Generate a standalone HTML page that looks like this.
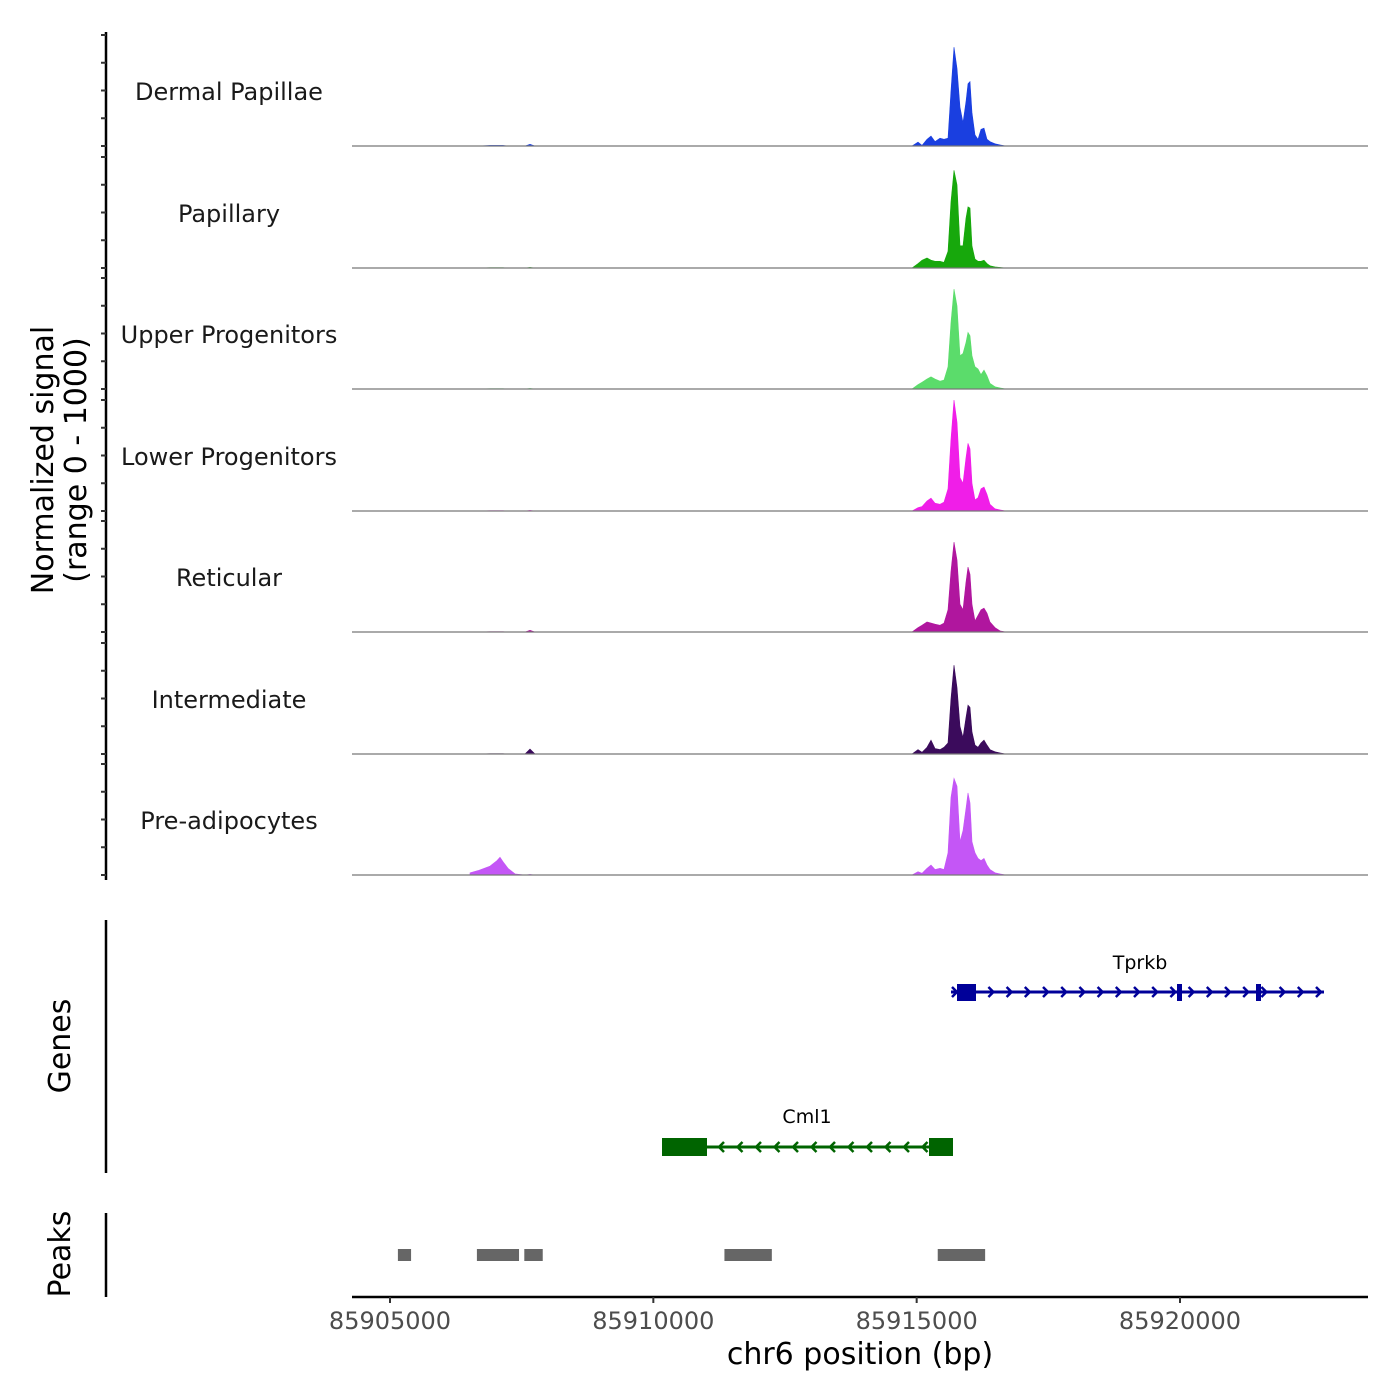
<!DOCTYPE html>
<html><head><meta charset="utf-8"><style>
html,body{margin:0;padding:0;background:#fff}
svg{display:block;font-family:"DejaVu Sans","Liberation Sans",sans-serif}
</style></head><body>
<svg id="chart" width="1400" height="1400" viewBox="0 0 1400 1400" xmlns="http://www.w3.org/2000/svg"></svg>
<script>
const positions=[85906519,85906671,85906899,85907032,85907089,85907146,85907240,85907373,85907563,85907658,85907753,
85914911,85915025,85915101,85915196,85915272,85915348,85915443,85915519,85915595,85915652,85915709,85915766,85915823,85915880,85915937,85915975,85916012,85916050,85916107,85916164,85916221,85916278,85916335,85916392,85916487,85916582,85916696];
const trackNames=["Dermal Papillae","Papillary","Upper Progenitors","Lower Progenitors","Reticular","Intermediate","Pre-adipocytes"];
const trackColors=["#1a3fe0","#17a80c","#5bdc6b","#f01ee8","#b0169e","#3b0b5c","#c456f6"];
const dpValues=[0,0,5,5,5,5,0,0,0,15,0, 0,35,5,60,90,40,70,60,70,500,890,700,350,210,400,560,580,300,100,60,150,160,60,40,20,10,0];
const papValues=[0,0,3,3,3,3,0,0,0,5,0, 0,40,70,90,70,60,60,50,150,600,880,750,200,200,450,550,540,200,80,60,60,70,40,20,10,5,0];
const upValues=[0,0,3,3,3,3,0,0,0,5,0, 0,40,60,90,110,90,70,80,200,600,900,750,300,320,420,510,480,300,200,180,130,170,120,50,20,10,0];
const lowValues=[0,0,3,3,3,3,0,0,0,5,0, 0,30,40,90,115,70,60,80,200,650,1000,800,300,250,480,610,560,250,100,120,200,215,150,60,20,10,0];
const retValues=[0,0,3,3,3,3,0,0,0,15,0, 0,40,60,90,80,70,60,80,200,550,810,650,250,200,450,585,520,250,100,150,200,215,170,90,40,10,0];
const intValues=[0,0,3,3,3,3,0,0,0,45,0, 0,40,15,60,125,50,40,60,100,500,800,600,250,150,330,440,420,200,80,60,100,125,80,40,20,10,0];
const preValues=[20,40,80,130,160,120,60,10,0,5,0, 0,30,15,60,90,50,60,50,200,700,870,800,300,400,600,740,650,300,200,150,130,150,90,50,20,10,0];
const trackValues=[dpValues,papValues,upValues,lowValues,retValues,intValues,preValues];
const xTicks=[85905000,85910000,85915000,85920000];
const peakStarts=[85905150,85906650,85907550,85911350,85915400];
const peakEnds=[85905400,85907450,85907900,85912250,85916300];

const NS="http://www.w3.org/2000/svg";
const svg=document.getElementById("chart");
function xs(bp){return 390+(bp-85905000)*(790/15000);}
function mk(tag,attrs,parent){const e=document.createElementNS(NS,tag);for(const k in attrs)e.setAttribute(k,attrs[k]);(parent||svg).appendChild(e);return e;}
const X0=352,X1=1368,AX=106;
const baselines=[146,268,389,511,632,754,875];
const yScale=111/1000;

let ax=mk("line",{x1:AX,x2:AX,y1:32,y2:880,stroke:"#000","stroke-width":2.5});


trackNames.forEach((name,i)=>{
  const b=baselines[i];
  for(let t=0;t<=1000;t+=250){
    const tk=mk("line",{x1:AX-5,x2:AX,y1:b-t*yScale,y2:b-t*yScale,stroke:"#333","stroke-width":2});
    
    
  }
  const vals=trackValues[i];
  let d="M"+X0+","+b+" L"+xs(positions[0]).toFixed(1)+","+b;
  positions.forEach((p,j)=>{d+=" L"+xs(p).toFixed(1)+","+(b-vals[j]*yScale).toFixed(1);});
  d+=" L"+X1+","+b+" Z";
  const area=mk("path",{d:d,fill:trackColors[i],stroke:trackColors[i],"stroke-width":0.6});
  
  
  const bl=mk("line",{x1:X0,x2:X1,y1:b,y2:b,stroke:"#777","stroke-width":1.2});
  
  
  const lab=mk("text",{x:229,y:b-54+8,"text-anchor":"middle","font-size":24,fill:"#1a1a1a"});
  lab.textContent=name;
  
  
});
let yt=mk("text",{transform:"translate(53,460) rotate(-90)","text-anchor":"middle","font-size":30,fill:"#000"});
yt.textContent="Normalized signal";


let yt2=mk("text",{transform:"translate(86,460) rotate(-90)","text-anchor":"middle","font-size":30,fill:"#000"});
yt2.textContent="(range 0 - 1000)";



let ga=mk("line",{x1:AX,x2:AX,y1:920,y2:1173,stroke:"#000","stroke-width":2.5});


let gt=mk("text",{transform:"translate(70,1046) rotate(-90)","text-anchor":"middle","font-size":30,fill:"#000"});
gt.textContent="Genes";


const blue="#000099",green="#006400";
let g1=mk("g",{});


mk("line",{x1:951,x2:1324,y1:992,y2:992,stroke:blue,"stroke-width":3},g1);
for(let x=956;x<=1324;x+=18.2){mk("polyline",{points:(x-4)+",987 "+(x+1)+",992 "+(x-4)+",997",fill:"none",stroke:blue,"stroke-width":2.5},g1);}
mk("rect",{x:957,y:984,width:19,height:17,fill:blue},g1);
mk("rect",{x:1177,y:984,width:5,height:17,fill:blue},g1);
mk("rect",{x:1256,y:984,width:5,height:17,fill:blue},g1);
let tl=mk("text",{x:1140,y:969,"text-anchor":"middle","font-size":19,fill:"#000"},g1);
tl.textContent="Tprkb";
let g2=mk("g",{});


mk("line",{x1:662,x2:953,y1:1147,y2:1147,stroke:green,"stroke-width":3},g2);
for(let x=720;x<=925;x+=18.5){mk("polyline",{points:(x+4)+",1142 "+(x-1)+",1147 "+(x+4)+",1152",fill:"none",stroke:green,"stroke-width":2.5},g2);}
mk("rect",{x:662,y:1138,width:45,height:18,fill:green},g2);
mk("rect",{x:929,y:1138,width:24,height:18,fill:green},g2);
let cl=mk("text",{x:807,y:1123,"text-anchor":"middle","font-size":19,fill:"#000"},g2);
cl.textContent="Cml1";

let pa=mk("line",{x1:AX,x2:AX,y1:1213,y2:1297,stroke:"#000","stroke-width":2.5});


let pt=mk("text",{transform:"translate(70,1254) rotate(-90)","text-anchor":"middle","font-size":30,fill:"#000"});
pt.textContent="Peaks";


peakStarts.forEach((s,i)=>{
  const r=mk("rect",{x:xs(s),y:1249,width:xs(peakEnds[i])-xs(s),height:12,fill:"#666"});
  
  
});

let xa=mk("line",{x1:X0,x2:X1,y1:1297,y2:1297,stroke:"#000","stroke-width":2.5});


xTicks.forEach(t=>{
  const tk=mk("line",{x1:xs(t),x2:xs(t),y1:1297,y2:1303,stroke:"#333","stroke-width":2});
  
  
  const tx=mk("text",{x:xs(t),y:1329,"text-anchor":"middle","font-size":24,fill:"#4d4d4d"});
  tx.textContent=String(t);
  
  
});
let xt=mk("text",{x:860,y:1364,"text-anchor":"middle","font-size":30,fill:"#000"});
xt.textContent="chr6 position (bp)";


</script>
</body></html>
